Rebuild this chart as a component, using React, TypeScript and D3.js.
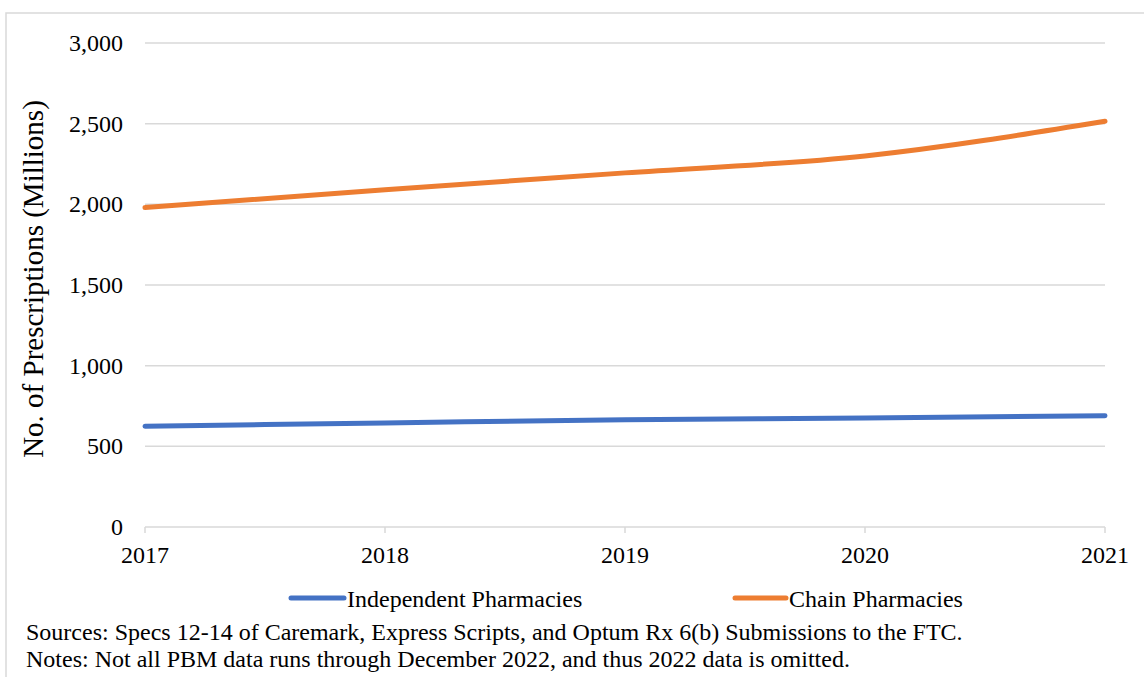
import React from "react";
import * as d3 from "d3";

// Annual prescription volumes (millions) by pharmacy type
const years = [2017, 2018, 2019, 2020, 2021];
const independentPharmacies = [625, 645, 665, 675, 690];
const chainPharmacies = [1980, 2090, 2195, 2300, 2515];
const yTicks = [0, 500, 1000, 1500, 2000, 2500, 3000];

const seriesNames = ["Independent Pharmacies", "Chain Pharmacies"];
const seriesColors = ["#4472C4", "#ED7D31"];

const W = 1144;
const H = 677;
const FONT = "'Liberation Serif', 'Times New Roman', serif";

export default function App() {
  const x = d3.scaleLinear().domain([2017, 2021]).range([145, 1105]);
  const y = d3.scaleLinear().domain([0, 3000]).range([527, 43]);

  const line = d3
    .line<number>()
    .x((_, i) => x(years[i]))
    .y((d) => y(d))
    .curve(d3.curveMonotoneX);

  const series = [independentPharmacies, chainPharmacies];
  const fmt = d3.format(",");

  const legendItems = [
    { x1: 291, x2: 344, tx: 347 },
    { x1: 735, x2: 786, tx: 789 },
  ];

  return (
    <svg
      width={W}
      height={H}
      style={{ position: "absolute", left: 0, top: 0, background: "#fff" }}
      fontFamily={FONT}
    >
      <rect x={6} y={13} width={W + 20} height={H + 20} fill="#fff" stroke="#D9D9D9" strokeWidth={1.5} />

      {/* horizontal gridlines */}
      {yTicks.map((t) =>
        t === 0 ? null : (
          <line key={t} x1={145} x2={1105} y1={y(t)} y2={y(t)} stroke="#D9D9D9" strokeWidth={1.5} />
        )
      )}

      {/* x axis with tick marks */}
      <line x1={145} x2={1105} y1={y(0)} y2={y(0)} stroke="#D9D9D9" strokeWidth={1.5} />
      {years.map((yr) => (
        <line key={yr} x1={x(yr)} x2={x(yr)} y1={y(0)} y2={y(0) + 6} stroke="#D9D9D9" strokeWidth={1.5} />
      ))}

      {/* y tick labels */}
      {yTicks.map((t) => (
        <text key={t} x={123} y={y(t) + 8} textAnchor="end" fontSize={24} fill="#000">
          {fmt(t)}
        </text>
      ))}

      {/* x tick labels */}
      {years.map((yr) => (
        <text key={yr} x={x(yr)} y={563} textAnchor="middle" fontSize={24} fill="#000">
          {yr}
        </text>
      ))}

      {/* y axis title */}
      <text
        transform={`translate(43, 279) rotate(-90)`}
        textAnchor="middle"
        fontSize={29}
        fill="#000"
      >
        No. of Prescriptions (Millions)
      </text>

      {/* data lines */}
      {series.map((s, i) => (
        <path
          key={i}
          d={line(s) || ""}
          fill="none"
          stroke={seriesColors[i]}
          strokeWidth={5}
          strokeLinecap="round"
        />
      ))}

      {/* legend */}
      {legendItems.map((it, i) => (
        <g key={i}>
          <line x1={it.x1} x2={it.x2} y1={598} y2={598} stroke={seriesColors[i]} strokeWidth={5} strokeLinecap="round" />
          <text x={it.tx} y={607} fontSize={24} fill="#000">
            {seriesNames[i]}
          </text>
        </g>
      ))}

      {/* footnotes */}
      <text x={26} y={640} fontSize={24} fill="#000">
        Sources: Specs 12-14 of Caremark, Express Scripts, and Optum Rx 6(b) Submissions to the FTC.
      </text>
      <text x={26} y={667} fontSize={24} fill="#000">
        Notes: Not all PBM data runs through December 2022, and thus 2022 data is omitted.
      </text>
    </svg>
  );
}
